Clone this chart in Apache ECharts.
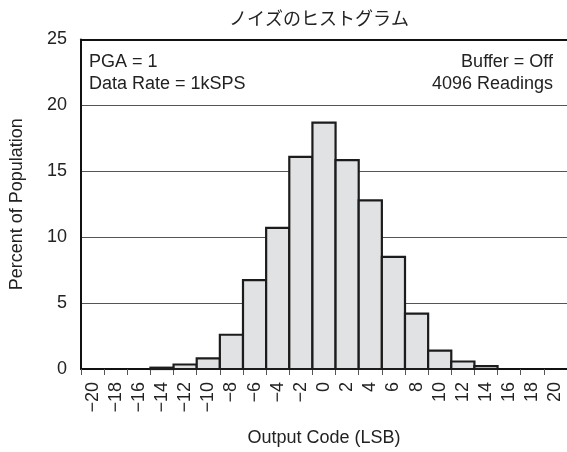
<!DOCTYPE html>
<html><head><meta charset="utf-8">
<script src="https://cdn.jsdelivr.net/npm/echarts@6/dist/echarts.min.js"></script>
<style>html,body{margin:0;padding:0;background:#fff}#c{width:567px;height:452px}</style>
</head><body><div id="c"></div>
<script>
const codes = [-20,-18,-16,-14,-12,-10,-8,-6,-4,-2,0,2,4,6,8,10,12,14,16,18,20];
const percents = [0,0,0,0.1,0.34,0.8,2.6,6.75,10.7,16.1,18.7,15.85,12.8,8.5,4.2,1.4,0.57,0.22,0,0,0];
const yTicks = [0,5,10,15,20,25];
const titleText = 'ノイズのヒストグラム';
const notesLeft = ['PGA = 1','Data Rate = 1kSPS'];
const notesRight = ['Buffer = Off','4096 Readings'];

const FONT = '"Liberation Sans", Arial, Helvetica, sans-serif';
const FS = 18;
const cats = codes.map(v=>String(v).replace('-','\u2212'));
const chart = echarts.init(document.getElementById('c'), null, {renderer:'canvas'});
chart.setOption({
  animation:false,
  backgroundColor:'#fff',
  title:{text:titleText,left:314,top:4,textAlign:'center',textStyle:{fontFamily:'"Noto Sans CJK JP", sans-serif',fontSize:18,fontWeight:'normal',color:'#222'}},
  grid:{left:73,top:39.5,right:0,bottom:78.5,containLabel:false},
  xAxis:[{
    type:'category',data:cats,boundaryGap:true,position:'bottom',
    name:'Output Code (LSB)',nameLocation:'middle',nameGap:60,
    nameTextStyle:{fontFamily:FONT,fontSize:FS,color:'#222'},
    axisLine:{show:true,onZero:false,lineStyle:{color:'#111',width:2}},
    axisTick:{show:true,length:6,inside:false,alignWithLabel:false,interval:0,lineStyle:{color:'#555',width:1}},
    axisLabel:{rotate:90,margin:13,interval:0,fontFamily:FONT,fontSize:FS,color:'#222'},
    splitLine:{show:false}
  },{
    type:'category',data:cats,position:'top',
    axisLine:{show:true,onZero:false,lineStyle:{color:'#111',width:2}},
    axisTick:{show:false},axisLabel:{show:false},splitLine:{show:false}
  }],
  yAxis:{
    type:'value',min:0,max:25,interval:5,
    name:'Percent of Population',nameLocation:'middle',nameGap:55,
    nameTextStyle:{fontFamily:FONT,fontSize:FS,color:'#222'},
    axisLine:{show:true,onZero:false,lineStyle:{color:'#111',width:2}},
    axisTick:{show:false},
    axisLabel:{margin:14,fontFamily:FONT,fontSize:FS,color:'#222',formatter:v=>yTicks.indexOf(v)>=0?String(v):''},
    splitLine:{show:true,lineStyle:{color:'#555',width:1}}
  },
  graphic:[
    {type:'text',x:89,y:62,style:{text:notesLeft[0],font:FS+'px '+FONT,fill:'#222',verticalAlign:'middle'}},
    {type:'text',x:89,y:84,style:{text:notesLeft[1],font:FS+'px '+FONT,fill:'#222',verticalAlign:'middle'}},
    {type:'text',x:553,y:62,style:{text:notesRight[0],font:FS+'px '+FONT,fill:'#222',align:'right',verticalAlign:'middle'}},
    {type:'text',x:553,y:84,style:{text:notesRight[1],font:FS+'px '+FONT,fill:'#222',align:'right',verticalAlign:'middle'}}
  ],
  series:[{
    type:'custom',
    xAxisIndex:0,
    data:percents,
    renderItem:(params,api)=>{
      const v = api.value(1);
      if (!(v > 0)) return null;
      const top = api.coord([api.value(0), v]);
      const base = api.coord([api.value(0), 0]);
      const w = api.size([1, 0])[0];
      return {type:'rect',shape:{x:top[0]-w/2,y:top[1],width:w,height:base[1]-top[1]},
        style:{fill:'#e1e2e4',stroke:'#1c1c1c',lineWidth:2.2}};
    }
  }]
});
</script></body></html>
